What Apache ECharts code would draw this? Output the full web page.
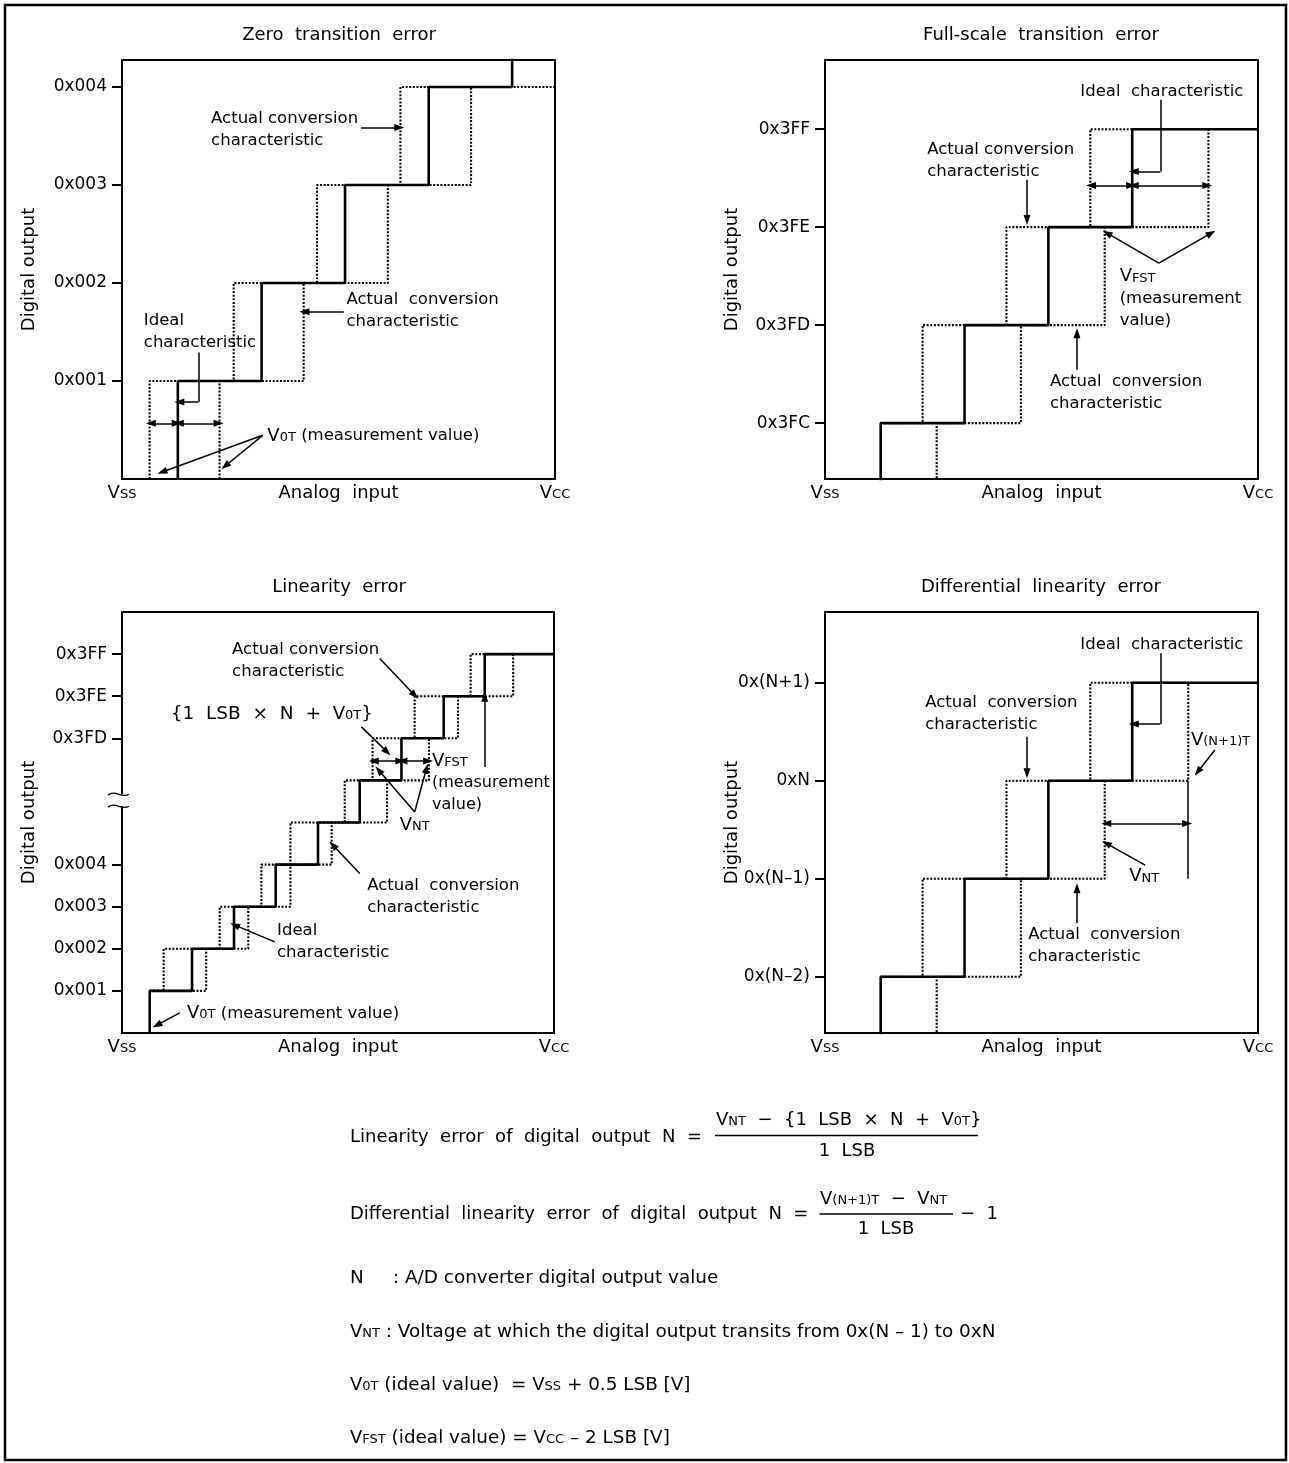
<!DOCTYPE html>
<html><head><meta charset="utf-8">
<script src="https://cdn.jsdelivr.net/npm/echarts@6/dist/echarts.min.js"></script>
<style>html,body{margin:0;padding:0;background:#fff}#c{width:1289px;height:1463px}</style>
</head><body><div id="c"></div>
<script>
const FONT = 'DejaVu Sans';

// ---------- Zero transition error ----------
const zeroTicks = [1, 2, 3, 4];
const zeroTickLabels = ['0x001', '0x002', '0x003', '0x004'];
const zeroXMax = 5.18;
const zeroYRange = [0, 4.276];
const zeroIdeal = [[0.668, 0], [0.668, 1], [1.67, 2], [2.668, 3], [3.669, 4], [4.667, 4.3]];
const zeroActualLeft = [[0.33, 0], [0.33, 1], [1.336, 2], [2.333, 3], [3.331, 4], [5.18, 4]];
const zeroActualRight = [[1.167, 0], [1.167, 1], [2.173, 2], [3.18, 3], [4.176, 4]];
const zeroTexts = [
  [1.066, 3.568, 'Actual conversion\ncharacteristic'],
  [2.686, 1.716, 'Actual  conversion\ncharacteristic'],
  [0.261, 1.507, 'Ideal\ncharacteristic'],
  [1.739, 0.439, '{v|V}{s|0T} (measurement value)']
];
const zeroArrows = [
  [2.86, 3.586, 3.317, 3.586, 'end'],
  [2.653, 1.708, 2.182, 1.708, 'end'],
  [0.915, 1.29, 0.915, 0.786, 'none'],
  [0.915, 0.786, 0.686, 0.786, 'end'],
  [0.345, 0.568, 0.655, 0.568, 'both'],
  [0.68, 0.568, 1.155, 0.568, 'both'],
  [1.683, 0.446, 0.481, 0.071, 'end'],
  [1.683, 0.446, 1.235, 0.133, 'end']
];

// ---------- Full-scale transition error ----------
const fsTicks = [1020, 1021, 1022, 1023];
const fsTickLabels = ['0x3FC', '0x3FD', '0x3FE', '0x3FF'];
const fsXMax = 5.164;
const fsYRange = [1019.43, 1023.706];
const fsIdeal = [[0.664, 1019.4], [0.664, 1020], [1.664, 1021], [2.664, 1022], [3.664, 1023], [5.164, 1023]];
const fsActualLeft = [[0.664, 1020], [1.164, 1021], [2.164, 1022], [3.164, 1023], [4.573, 1023]];
const fsActualRight = [[1.332, 1019.4], [1.332, 1020], [2.336, 1021], [3.336, 1022], [4.573, 1023]];
const fsTexts = [
  [3.045, 1023.384, 'Ideal  characteristic'],
  [1.218, 1022.678, 'Actual conversion\ncharacteristic'],
  [3.514, 1021.27, '{v|V}{s|FST}\n(measurement\nvalue)'],
  [2.682, 1020.314, 'Actual  conversion\ncharacteristic']
];
const fsArrows = [
  [4.0, 1023.30, 4.0, 1022.567, 'none'],
  [4.0, 1022.567, 3.682, 1022.567, 'end'],
  [3.173, 1022.425, 3.65, 1022.425, 'both'],
  [3.682, 1022.425, 4.559, 1022.425, 'both'],
  [2.409, 1022.483, 2.409, 1022.074, 'end'],
  [3.982, 1021.633, 3.364, 1021.939, 'end'],
  [3.982, 1021.633, 4.605, 1021.939, 'end'],
  [3.005, 1020.544, 3.005, 1020.918, 'end']
];

// ---------- Linearity error ----------
const linTicks = [1, 2, 3, 4, 7, 8, 9];
const linTickLabels = ['0x001', '0x002', '0x003', '0x004', '0x3FD', '0x3FE', '0x3FF'];
const linXMax = 10.26;
const linYRange = [0, 10.0];
const linBreakAt = 5.53;
const linIdeal = [[0.658, 0], [0.658, 1], [1.663, 2], [2.66, 3], [3.65, 4], [4.655, 5], [5.646, 6], [6.637, 7], [7.64, 8], [8.615, 9], [10.26, 9]];
const linActualLeft = [[0.658, 1], [0.99, 2], [2.32, 3], [3.31, 4], [4.0, 5], [5.29, 6], [5.95, 7], [6.95, 8], [8.28, 9], [9.29, 9]];
const linActualRight = [[0.658, 1], [2.0, 2], [3.0, 3], [4.0, 4], [4.98, 5], [6.295, 6], [7.29, 7], [7.98, 8], [9.29, 9]];
const linTexts = [
  [2.615, 8.836, 'Actual conversion\ncharacteristic'],
  [1.157, 7.572, '{1  LSB  ×  N  +  {v|V}{s|0T}}', 18.5],
  [7.363, 5.933, '{v|V}{s|FST}\n(measurement\nvalue)', 16],
  [6.596, 4.936, '{v|V}{s|NT}'],
  [5.822, 3.23, 'Actual  conversion\ncharacteristic'],
  [3.682, 2.164, 'Ideal\ncharacteristic'],
  [1.544, 0.463, '{v|V}{s|0T} (measurement value)']
];
const linArrows = [
  [6.121, 8.895, 6.952, 8.024, 'end'],
  [5.686, 7.271, 6.295, 6.677, 'end'],
  [5.98, 6.463, 6.61, 6.463, 'both'],
  [6.66, 6.463, 7.27, 6.463, 'both'],
  [8.615, 6.321, 8.615, 7.984, 'end'],
  [6.952, 5.252, 6.097, 6.243, 'end'],
  [6.952, 5.252, 7.23, 6.283, 'end'],
  [5.646, 3.789, 5.012, 4.461, 'end'],
  [3.627, 2.164, 2.677, 2.561, 'end'],
  [1.371, 0.477, 0.831, 0.185, 'end']
];

// ---------- Differential linearity error ----------
const dnlTicks = [-2, -1, 0, 1];
const dnlTickLabels = ['0x(N–2)', '0x(N–1)', '0xN', '0x(N+1)'];
const dnlXMax = 5.164;
const dnlYRange = [-2.574, 1.722];
const dnlIdeal = [[0.664, -2.6], [0.664, -2], [1.664, -1], [2.664, 0], [3.664, 1], [5.164, 1]];
const dnlActualLeft = [[0.664, -2], [1.164, -1], [2.164, 0], [3.164, 1], [4.332, 1]];
const dnlActualRight = [[1.332, -2.6], [1.332, -2], [2.336, -1], [3.336, 0], [4.332, 1]];
const dnlTexts = [
  [3.045, 1.385, 'Ideal  characteristic'],
  [1.195, 0.686, 'Actual  conversion\ncharacteristic'],
  [4.364, 0.415, '{v|V}{s|(N+1)T}'],
  [3.627, -0.98, '{v|V}{s|NT}'],
  [2.423, -1.685, 'Actual  conversion\ncharacteristic']
];
const dnlArrows = [
  [4.0, 1.30, 4.0, 0.579, 'none'],
  [4.0, 0.579, 3.682, 0.579, 'end'],
  [2.409, 0.449, 2.409, 0.076, 'end'],
  [4.65, 0.313, 4.445, 0.092, 'end'],
  [3.355, -0.435, 4.318, -0.435, 'both'],
  [4.332, -1, 4.332, 0, 'none'],
  [3.818, -0.86, 3.355, -0.639, 'end'],
  [3.005, -1.455, 3.005, -1.098, 'end']
];

// ---------- layout / styles ----------
const grids = [
  { left: 122, top: 60, width: 433, height: 419 },
  { left: 825, top: 60, width: 433, height: 419 },
  { left: 122, top: 612, width: 432, height: 421 },
  { left: 825, top: 612, width: 433, height: 421 }
];
const RICH = {
  v: { fontSize: 18, fontFamily: FONT, color: '#000', fill: '#000' },
  s: { fontSize: 13, fontFamily: FONT, color: '#000', fill: '#000', padding: [3, 0, 0, 0] }
};

function xAxis(i, max) {
  return {
    type: 'value', gridIndex: i, min: 0, max: max,
    name: 'Analog  input', nameLocation: 'middle', nameGap: 5, nameMoveOverlap: false,
    nameTextStyle: { fontFamily: FONT, fontSize: 18, color: '#000', verticalAlign: 'top' },
    axisLine: { show: false }, axisTick: { show: false }, splitLine: { show: false },
    axisLabel: {
      show: true, customValues: [0, max], margin: 5, showMinLabel: true, showMaxLabel: true, hideOverlap: false,
      formatter: v => (v < max / 2 ? '{v|V}{s|SS}' : '{v|V}{s|CC}'),
      rich: RICH, fontFamily: FONT, color: '#000'
    }
  };
}
function yAxis(i, range, ticks, labels) {
  return {
    type: 'value', gridIndex: i, min: range[0], max: range[1],
    name: 'Digital output', nameLocation: 'middle', nameGap: 84, nameMoveOverlap: false,
    nameTextStyle: { fontFamily: FONT, fontSize: 18, color: '#000' },
    axisLine: { show: false }, splitLine: { show: false },
    axisTick: { show: true, inside: false, length: 10, customValues: ticks, lineStyle: { color: '#000', width: 2 } },
    axisLabel: {
      show: true, customValues: ticks, margin: 15, fontFamily: FONT, fontSize: 17, color: '#000',
      formatter: v => { const k = ticks.findIndex(t => Math.abs(t - v) < 1e-6); return k >= 0 ? labels[k] : ''; }
    }
  };
}
function stepSeries(i, data, dotted) {
  return {
    type: 'line', xAxisIndex: i, yAxisIndex: i, data: data, step: 'end',
    symbol: 'none', showSymbol: false, silent: true, animation: false, clip: true,
    lineStyle: dotted ? { color: '#000', width: 2.1, type: [2, 1.6] } : { color: '#000', width: 2.6, type: 'solid' },
    z: dotted ? 2 : 3
  };
}
function annoSeries(i, texts, arrows) {
  return {
    type: 'scatter', xAxisIndex: i, yAxisIndex: i, silent: true, animation: false,
    symbolSize: 0.01, itemStyle: { color: 'rgba(0,0,0,0)', opacity: 1 },
    data: texts.map(t => {
      const item = { value: [t[0], t[1]], name: t[2] };
      if (t[3]) item.label = { fontSize: t[3] };
      return item;
    }),
    label: {
      show: true, position: 'right', distance: 0, formatter: p => p.name, opacity: 1,
      color: '#000', fontFamily: FONT, fontSize: 16.5, lineHeight: 22, align: 'left', verticalAlign: 'middle',
      rich: RICH
    },
    markLine: {
      silent: true, animation: false, label: { show: false }, emphasis: { disabled: true },
      lineStyle: { color: '#000', width: 1.5, type: 'solid', opacity: 1 },
      data: arrows.map(a => [
        { coord: [a[0], a[1]], symbol: a[4] === 'both' ? 'triangle' : 'none', symbolSize: [7, 10] },
        { coord: [a[2], a[3]], symbol: a[4] === 'none' ? 'none' : 'triangle', symbolSize: [7, 10] }
      ])
    },
    z: 5
  };
}

function txt(id, x, y, text, extra) {
  return {
    type: 'text', id: id, x: x, y: y, z: 100,
    style: Object.assign({
      text: text, fontFamily: FONT, fontSize: 18, fill: '#000',
      align: 'left', textAlign: 'left', verticalAlign: 'middle', textVerticalAlign: 'middle', rich: RICH
    }, extra || {})
  };
}
function hline(id, x1, x2, y) {
  return { type: 'line', id: id, z: 100, shape: { x1: x1, y1: y, x2: x2, y2: y }, style: { stroke: '#000', lineWidth: 1.5 } };
}
const BODY = { fontSize: 18.4 };

const graphics = [
  { type: 'rect', id: 'frame', z: 100, shape: { x: 5, y: 5, width: 1281, height: 1455 }, style: { fill: 'none', stroke: '#000', lineWidth: 2.5 } },
  txt('t1', 339, 35, 'Zero  transition  error', { align: 'center', textAlign: 'center' }),
  txt('t2', 1041, 35, 'Full-scale  transition  error', { align: 'center', textAlign: 'center' }),
  txt('t3', 339, 587, 'Linearity  error', { align: 'center', textAlign: 'center' }),
  txt('t4', 1041, 587, 'Differential  linearity  error', { align: 'center', textAlign: 'center' }),
  txt('f1', 350, 1137, 'Linearity  error  of  digital  output  N  ='),
  txt('f1n', 716, 1120, '{v|V}{s|NT}  −  {1  LSB  ×  N  +  {v|V}{s|0T}}'),
  hline('f1b', 715, 978, 1135.5),
  txt('f1d', 847, 1151, '1  LSB', { align: 'center', textAlign: 'center' }),
  txt('f2', 350, 1214, 'Differential  linearity  error  of  digital  output  N  ='),
  txt('f2n', 820, 1199, '{v|V}{s|(N+1)T}  −  {v|V}{s|NT}'),
  hline('f2b', 819.5, 953, 1214),
  txt('f2d', 886, 1229, '1  LSB', { align: 'center', textAlign: 'center' }),
  txt('f2m', 960, 1214, '−  1'),
  txt('f3a', 350, 1278, 'N', BODY),
  txt('f3b', 393, 1278, ': A/D converter digital output value', BODY),
  txt('f4', 350, 1332, '{v|V}{s|NT} : Voltage at which the digital output transits from 0x(N – 1) to 0xN', BODY),
  txt('f5', 350, 1385, '{v|V}{s|0T} (ideal value)  = {v|V}{s|SS} + 0.5 LSB [V]', BODY),
  txt('f6', 350, 1438, '{v|V}{s|FST} (ideal value) = {v|V}{s|CC} – 2 LSB [V]', BODY)
];

const option = {
  backgroundColor: '#fff',
  animation: false,
  textStyle: { fontFamily: FONT },
  grid: grids.map(g => Object.assign({ show: true, borderColor: '#000', borderWidth: 2, backgroundColor: 'transparent', containLabel: false, outerBoundsMode: 'none' }, g)),
  xAxis: [xAxis(0, zeroXMax), xAxis(1, fsXMax), xAxis(2, linXMax), xAxis(3, dnlXMax)],
  yAxis: [
    yAxis(0, zeroYRange, zeroTicks, zeroTickLabels),
    yAxis(1, fsYRange, fsTicks, fsTickLabels),
    yAxis(2, linYRange, linTicks, linTickLabels),
    yAxis(3, dnlYRange, dnlTicks, dnlTickLabels)
  ],
  series: [
    stepSeries(0, zeroActualLeft, true), stepSeries(0, zeroActualRight, true), stepSeries(0, zeroIdeal, false), annoSeries(0, zeroTexts, zeroArrows),
    stepSeries(1, fsActualLeft, true), stepSeries(1, fsActualRight, true), stepSeries(1, fsIdeal, false), annoSeries(1, fsTexts, fsArrows),
    stepSeries(2, linActualLeft, true), stepSeries(2, linActualRight, true), stepSeries(2, linIdeal, false), annoSeries(2, linTexts, linArrows),
    stepSeries(3, dnlActualLeft, true), stepSeries(3, dnlActualRight, true), stepSeries(3, dnlIdeal, false), annoSeries(3, dnlTexts, dnlArrows)
  ],
  graphic: graphics
};

const chart = echarts.init(document.getElementById('c'), null, { renderer: 'canvas' });
chart.setOption(option);

// axis break mark on the linearity chart's value axis
const bp = chart.convertToPixel({ xAxisIndex: 2, yAxisIndex: 2 }, [0, linBreakAt]);
if (bp) {
  const bx = bp[0], by = bp[1];
  option.graphic = graphics.concat([
    { type: 'polygon', id: 'brk0', z: 101, shape: { points: [[bx - 14, by - 6], [bx + 7, by - 6], [bx + 7, by + 6], [bx - 14, by + 6]] }, style: { fill: '#fff' } },
    { type: 'bezierCurve', id: 'brk1', z: 102, shape: { x1: bx - 14, y1: by - 5, cpx1: bx - 7, cpy1: by - 11, cpx2: bx, cpy2: by - 1, x2: bx + 7, y2: by - 6 }, style: { stroke: '#000', lineWidth: 1.2, fill: 'none' } },
    { type: 'bezierCurve', id: 'brk2', z: 102, shape: { x1: bx - 14, y1: by + 7, cpx1: bx - 7, cpy1: by + 1, cpx2: bx, cpy2: by + 11, x2: bx + 7, y2: by + 6 }, style: { stroke: '#000', lineWidth: 1.2, fill: 'none' } }
  ]);
  chart.setOption(option, true);
}
</script>
</body></html>
